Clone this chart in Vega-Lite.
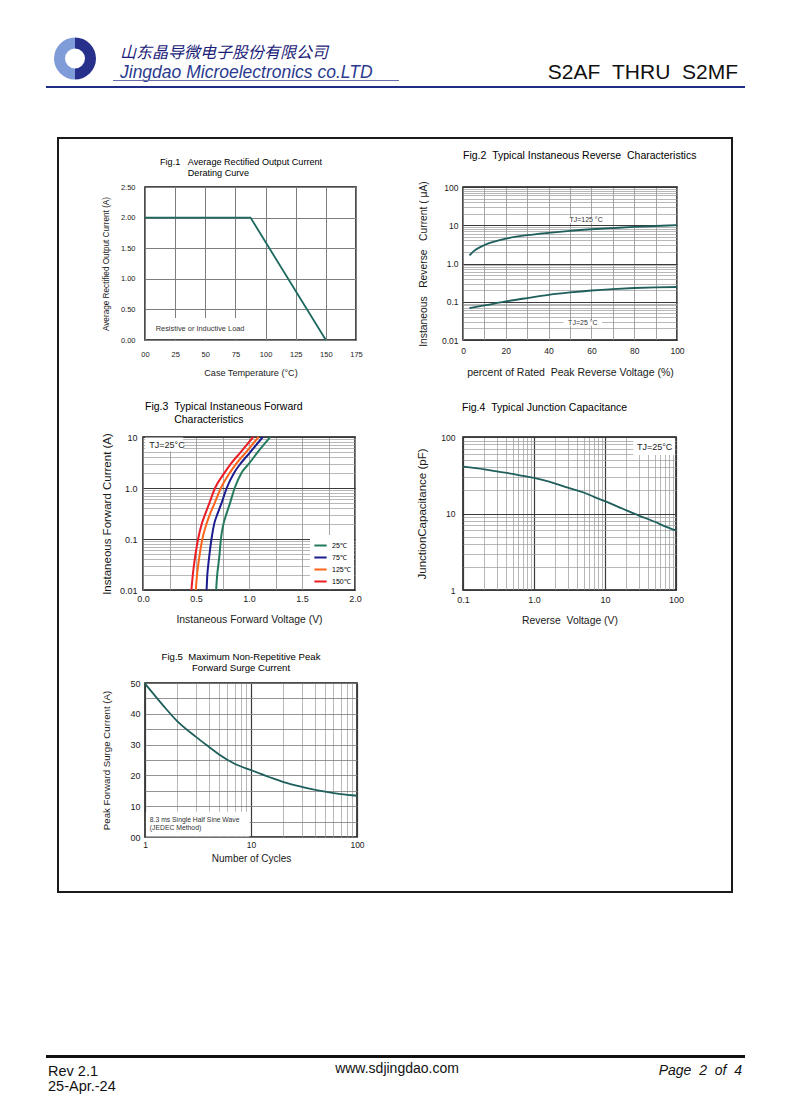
{
"$schema":"https://vega.github.io/schema/vega-lite/v6.json",
"padding":0,
"background":"white",
"spacing":0,
"bounds":"flush",
"columns":2,
"align":"each",
"resolve":{"scale":{"color":"independent"},"legend":{"color":"independent"}},
"datasets":{
"blank":[{"k":1}],
"logo":[{"part":"bowl","share":1},{"part":"stem","share":1}],
"fig1":[{"temp":0,"current":2},{"temp":87.5,"current":2},{"temp":150,"current":0}],
"fig2":[{"pct":3,"ir":1.62,"tj":"125"},{"pct":5,"ir":2.1,"tj":"125"},{"pct":10,"ir":3.05,"tj":"125"},{"pct":15,"ir":3.8,"tj":"125"},{"pct":20,"ir":4.45,"tj":"125"},{"pct":30,"ir":5.5,"tj":"125"},{"pct":40,"ir":6.35,"tj":"125"},{"pct":50,"ir":7.15,"tj":"125"},{"pct":60,"ir":7.85,"tj":"125"},{"pct":70,"ir":8.45,"tj":"125"},{"pct":80,"ir":9.05,"tj":"125"},{"pct":90,"ir":9.55,"tj":"125"},{"pct":100,"ir":10.1,"tj":"125"},
{"pct":3,"ir":0.068,"tj":"25"},{"pct":10,"ir":0.08,"tj":"25"},{"pct":20,"ir":0.102,"tj":"25"},{"pct":30,"ir":0.125,"tj":"25"},{"pct":40,"ir":0.151,"tj":"25"},{"pct":50,"ir":0.175,"tj":"25"},{"pct":60,"ir":0.197,"tj":"25"},{"pct":70,"ir":0.215,"tj":"25"},{"pct":80,"ir":0.229,"tj":"25"},{"pct":90,"ir":0.238,"tj":"25"},{"pct":100,"ir":0.243,"tj":"25"}],
"fig3":[
{"volt":0.69,"amp":0.01,"tj":"25℃"},{"volt":0.70,"amp":0.02,"tj":"25℃"},{"volt":0.71,"amp":0.03,"tj":"25℃"},{"volt":0.722,"amp":0.05,"tj":"25℃"},{"volt":0.735,"amp":0.1,"tj":"25℃"},{"volt":0.76,"amp":0.2,"tj":"25℃"},{"volt":0.785,"amp":0.3,"tj":"25℃"},{"volt":0.82,"amp":0.5,"tj":"25℃"},{"volt":0.865,"amp":1,"tj":"25℃"},{"volt":0.93,"amp":2,"tj":"25℃"},{"volt":1.0,"amp":3,"tj":"25℃"},{"volt":1.08,"amp":5,"tj":"25℃"},{"volt":1.2,"amp":10,"tj":"25℃"},
{"volt":0.6,"amp":0.01,"tj":"75℃"},{"volt":0.607,"amp":0.02,"tj":"75℃"},{"volt":0.615,"amp":0.03,"tj":"75℃"},{"volt":0.627,"amp":0.05,"tj":"75℃"},{"volt":0.646,"amp":0.1,"tj":"75℃"},{"volt":0.672,"amp":0.2,"tj":"75℃"},{"volt":0.7,"amp":0.3,"tj":"75℃"},{"volt":0.74,"amp":0.5,"tj":"75℃"},{"volt":0.79,"amp":1,"tj":"75℃"},{"volt":0.86,"amp":2,"tj":"75℃"},{"volt":0.92,"amp":3,"tj":"75℃"},{"volt":1.01,"amp":5,"tj":"75℃"},{"volt":1.13,"amp":10,"tj":"75℃"},
{"volt":0.498,"amp":0.01,"tj":"125℃"},{"volt":0.51,"amp":0.02,"tj":"125℃"},{"volt":0.52,"amp":0.03,"tj":"125℃"},{"volt":0.535,"amp":0.05,"tj":"125℃"},{"volt":0.56,"amp":0.1,"tj":"125℃"},{"volt":0.6,"amp":0.2,"tj":"125℃"},{"volt":0.63,"amp":0.3,"tj":"125℃"},{"volt":0.675,"amp":0.5,"tj":"125℃"},{"volt":0.735,"amp":1,"tj":"125℃"},{"volt":0.82,"amp":2,"tj":"125℃"},{"volt":0.88,"amp":3,"tj":"125℃"},{"volt":0.97,"amp":5,"tj":"125℃"},{"volt":1.09,"amp":10,"tj":"125℃"},
{"volt":0.457,"amp":0.01,"tj":"150℃"},{"volt":0.47,"amp":0.02,"tj":"150℃"},{"volt":0.48,"amp":0.03,"tj":"150℃"},{"volt":0.495,"amp":0.05,"tj":"150℃"},{"volt":0.52,"amp":0.1,"tj":"150℃"},{"volt":0.555,"amp":0.2,"tj":"150℃"},{"volt":0.585,"amp":0.3,"tj":"150℃"},{"volt":0.625,"amp":0.5,"tj":"150℃"},{"volt":0.68,"amp":1,"tj":"150℃"},{"volt":0.77,"amp":2,"tj":"150℃"},{"volt":0.83,"amp":3,"tj":"150℃"},{"volt":0.92,"amp":5,"tj":"150℃"},{"volt":1.04,"amp":10,"tj":"150℃"}],
"fig4":[{"vr":0.1,"cj":41},{"vr":0.2,"cj":37.8},{"vr":0.3,"cj":35.5},{"vr":0.5,"cj":32.9},{"vr":0.7,"cj":31},{"vr":1,"cj":29.2},{"vr":2,"cj":24.6},{"vr":3,"cj":21.8},{"vr":5,"cj":18.8},{"vr":7,"cj":16.5},{"vr":10,"cj":14.5},{"vr":20,"cj":11},{"vr":30,"cj":9.4},{"vr":50,"cj":7.8},{"vr":70,"cj":6.8},{"vr":100,"cj":6.0}],
"fig5":[{"n":1,"ifsm":49.8},{"n":1.5,"ifsm":42.5},{"n":2,"ifsm":37.7},{"n":3,"ifsm":32.6},{"n":4,"ifsm":29.3},{"n":5,"ifsm":26.8},{"n":7,"ifsm":23.8},{"n":10,"ifsm":21.7},{"n":15,"ifsm":19.4},{"n":20,"ifsm":17.9},{"n":30,"ifsm":16.3},{"n":50,"ifsm":14.7},{"n":70,"ifsm":13.9},{"n":100,"ifsm":13.4}]
},
"concat":[
{"width":1,"height":37,"data":{"name":"blank"},"mark":{"type":"text","text":"","baseline":"top","align":"left"},"encoding":{}},
{"width":1,"height":1,"data":{"name":"blank"},"mark":{"type":"text","text":"","baseline":"top","align":"left"},"encoding":{}},

{"width":1,"height":43,"data":{"name":"blank"},"mark":{"type":"text","text":"","baseline":"top","align":"left"},"encoding":{}},
{"spacing":0,"bounds":"flush","hconcat":[
 {"width":51,"height":1,"data":{"name":"blank"},"mark":{"type":"text","text":"","baseline":"top","align":"left"},"encoding":{}},
 {"width":46,"height":43,"data":{"name":"logo"},"layer":[
  {"mark":{"type":"arc","outerRadius":21},"encoding":{"theta":{"field":"share","type":"quantitative","stack":true},"color":{"condition":{"test":"datum.part == 'bowl'","value":"#27318c"},"value":"#7f9bd8"}}},
  {"mark":{"type":"arc","outerRadius":10,"color":"#ffffff"},"encoding":{"theta":{"field":"share","type":"quantitative","stack":true}}}
 ]},
 {"width":20,"height":1,"data":{"name":"blank"},"mark":{"type":"text","text":"","baseline":"top","align":"left"},"encoding":{}},
 {"width":300,"height":43,"data":{"name":"blank"},"mark":{"type":"text","text":"","baseline":"top","align":"left"},"encoding":{},
  "title":{"text":"山东晶导微电子股份有限公司","subtitle":"Jingdao Microelectronics co.LTD","anchor":"start","frame":"group","orient":"top","offset":-44.7,"dx":2,"font":"Noto Sans CJK SC","fontSize":16,"fontStyle":"italic","fontWeight":"normal","color":"#1c1c7a","subtitleFont":"Liberation Sans","subtitleFontSize":17.5,"subtitleFontStyle":"italic","subtitleColor":"#2b3a8f","subtitlePadding":3.7}},
 {"width":120,"height":1,"data":{"name":"blank"},"mark":{"type":"text","text":"","baseline":"top","align":"left"},"encoding":{}},
 {"width":200,"height":43,"data":{"name":"blank"},"mark":{"type":"text","text":"","baseline":"top","align":"left"},"encoding":{},
  "title":{"text":"S2AF\u00a0\u00a0THRU\u00a0\u00a0S2MF","anchor":"end","frame":"group","orient":"top","offset":-46.4,"font":"Liberation Sans","fontSize":21,"fontWeight":"normal","color":"#111111"}}
]},

{"width":1,"height":1,"data":{"name":"blank"},"mark":{"type":"text","text":"","baseline":"top","align":"left"},"encoding":{}},
{"spacing":0,"bounds":"flush","hconcat":[
 {"width":112,"height":1,"data":{"name":"blank"},"mark":{"type":"text","text":"","baseline":"top","align":"left"},"encoding":{}},
 {"width":286,"height":1,"data":{"name":"blank"},"mark":{"type":"text","text":"","baseline":"top","align":"left"},"encoding":{},"view":{"fill":"#6b6ba8","stroke":null}}
]},

{"width":1,"height":5,"data":{"name":"blank"},"mark":{"type":"text","text":"","baseline":"top","align":"left"},"encoding":{}},
{"width":1,"height":1,"data":{"name":"blank"},"mark":{"type":"text","text":"","baseline":"top","align":"left"},"encoding":{}},

{"width":1,"height":2,"data":{"name":"blank"},"mark":{"type":"text","text":"","baseline":"top","align":"left"},"encoding":{}},
{"spacing":0,"bounds":"flush","hconcat":[
 {"width":45,"height":1,"data":{"name":"blank"},"mark":{"type":"text","text":"","baseline":"top","align":"left"},"encoding":{}},
 {"width":699,"height":2,"data":{"name":"blank"},"mark":{"type":"text","text":"","baseline":"top","align":"left"},"encoding":{},"view":{"fill":"#1f2d86","stroke":null}}
]},

{"width":1,"height":50,"data":{"name":"blank"},"mark":{"type":"text","text":"","baseline":"top","align":"left"},"encoding":{}},
{"width":1,"height":1,"data":{"name":"blank"},"mark":{"type":"text","text":"","baseline":"top","align":"left"},"encoding":{}},

{"width":1,"height":49,"data":{"name":"blank"},"mark":{"type":"text","text":"","baseline":"top","align":"left"},"encoding":{}},
{"spacing":0,"bounds":"flush","hconcat":[
 {"width":57,"height":1,"data":{"name":"blank"},"mark":{"type":"text","text":"","baseline":"top","align":"left"},"encoding":{}},
 {"width":674,"height":49,"data":{"name":"blank"},"mark":{"type":"text","text":"","baseline":"top","align":"left"},"encoding":{},"view":{"stroke":"#1a1a1a","strokeWidth":2,"strokeDash":[723,674,49]}}
]},

{"width":1,"height":153,"data":{"name":"blank"},"mark":{"type":"text","text":"","baseline":"top","align":"left"},"encoding":{}},
{"spacing":0,"bounds":"flush","hconcat":[
 {"width":57,"height":1,"data":{"name":"blank"},"mark":{"type":"text","text":"","baseline":"top","align":"left"},"encoding":{}},
 {"width":87,"height":153,"data":{"name":"blank"},"mark":{"type":"text","text":"","baseline":"top","align":"left"},"encoding":{},"view":{"stroke":"#1a1a1a","strokeWidth":2,"strokeDash":[0,327,153]}},
 {"width":211,"height":153,"view":{"stroke":"#111111","strokeWidth":1.5},
  "title":{"text":["Fig.1\u00a0\u00a0\u00a0Average Rectified Output Current","\u200b\u00a0\u00a0\u00a0\u00a0\u00a0\u00a0\u00a0\u00a0\u00a0\u00a0\u00a0Derating Curve"],"anchor":"start","frame":"group","dx":15,"fontSize":9.1,"lineHeight":11,"offset":5.25,"color":"#000000"},
  "layer":[
   {"data":{"name":"blank"},"mark":{"type":"rect","fill":"#ffffff"},"encoding":{"x":{"datum":0.8,"type":"quantitative"},"x2":{"datum":85},"y":{"datum":0.02,"type":"quantitative"},"y2":{"datum":0.36}}},
   {"data":{"name":"blank"},"mark":{"type":"text","align":"left","baseline":"middle","fontSize":7.4,"color":"#333333","text":"Resistive or Inductive Load"},"encoding":{"x":{"datum":8.9,"type":"quantitative"},"y":{"datum":0.185,"type":"quantitative"}}},
   {"data":{"name":"fig1"},"mark":{"type":"line","color":"#1d6a60","strokeWidth":1.8},"encoding":{
    "x":{"field":"temp","type":"quantitative","scale":{"domain":[0,175],"nice":false,"zero":false},"axis":{"values":[0,25,50,75,100,125,150,175],"tickCount":1000,"format":"d","labelExpr":"datum.value==0?'00':datum.label","title":"Case Temperature (°C)","labelFontSize":7.5,"titleFontSize":9.1,"labelPadding":10,"titlePadding":11,"grid":true,"gridColor":"#7d7d7d","gridWidth":1}},
    "y":{"field":"current","type":"quantitative","scale":{"domain":[0,2.5],"nice":false},"axis":{"values":[0,0.5,1,1.5,2,2.5],"tickCount":1000,"format":".2f","title":"Average Rectified Output Current (A)","labelFontSize":7.5,"titleFontSize":8.2,"labelPadding":10,"titlePadding":10,"grid":true,"gridColor":"#7d7d7d","gridWidth":1}}
   }}
  ]},
 {"width":107,"height":1,"data":{"name":"blank"},"mark":{"type":"text","text":"","baseline":"top","align":"left"},"encoding":{}},
 {"width":214,"height":153,"view":{"stroke":"#111111","strokeWidth":1.5},
  "title":{"text":"Fig.2\u00a0\u00a0Typical Instaneous Reverse\u00a0\u00a0Characteristics","anchor":"start","frame":"group","dx":0,"fontSize":10.5,"offset":19,"color":"#000000"},
  "layer":[
   {"data":{"name":"blank"},"mark":{"type":"rect","fill":"#ffffff"},"encoding":{"x":{"datum":49,"type":"quantitative"},"x2":{"datum":66},"y":{"datum":11.6,"type":"quantitative"},"y2":{"datum":16}}},
   {"data":{"name":"blank"},"mark":{"type":"text","align":"center","baseline":"middle","fontSize":7,"color":"#333333","text":"TJ=125 °C"},"encoding":{"x":{"datum":57.5,"type":"quantitative"},"y":{"datum":13.6,"type":"quantitative"}}},
   {"data":{"name":"blank"},"mark":{"type":"rect","fill":"#ffffff"},"encoding":{"x":{"datum":47,"type":"quantitative"},"x2":{"datum":65},"y":{"datum":0.0235,"type":"quantitative"},"y2":{"datum":0.0335}}},
   {"data":{"name":"blank"},"mark":{"type":"text","align":"center","baseline":"middle","fontSize":7,"color":"#333333","text":"TJ=25 °C"},"encoding":{"x":{"datum":56,"type":"quantitative"},"y":{"datum":0.028,"type":"quantitative"}}},
   {"data":{"name":"fig2"},"mark":{"type":"line","color":"#1e5f5c","strokeWidth":1.8,"interpolate":"monotone"},"encoding":{
    "detail":{"field":"tj"},
    "x":{"field":"pct","type":"quantitative","scale":{"domain":[0,100],"nice":false,"zero":false},"axis":{"values":[0,10,20,30,40,50,60,70,80,90,100],"tickCount":1000,"format":"d","labelExpr":"datum.value % 20 == 0 ? datum.label : ''","title":"percent of Rated\u00a0\u00a0Peak Reverse Voltage (%)","labelFontSize":8.5,"titleFontSize":10.5,"labelPadding":6.5,"titlePadding":12,"grid":true}},
    "y":{"field":"ir","type":"quantitative","scale":{"type":"log","domain":[0.01,100],"nice":false},"axis":{"values":[0.01,0.02,0.03,0.04,0.05,0.06,0.07,0.08,0.09,0.1,0.2,0.3,0.4,0.5,0.6,0.7,0.8,0.9,1,2,3,4,5,6,7,8,9,10,20,30,40,50,60,70,80,90,100],"tickCount":1000,"labelExpr":"datum.value==0.01?'0.01':datum.value==0.1?'0.1':datum.value==1?'1.0':datum.value==10?'10':datum.value==100?'100':''","title":"Instaneous\u00a0\u00a0\u00a0Reverse\u00a0\u00a0\u00a0Current ( μA)","labelFontSize":8.5,"titleFontSize":10.3,"labelPadding":5,"titlePadding":13,"grid":true,
      "gridColor":{"condition":{"test":"indexof([0.01,0.1,1,10,100],datum.value)>=0","value":"#3a3a3a"},"value":"#9a9a9a"},
      "gridWidth":{"condition":{"test":"indexof([0.01,0.1,1,10,100],datum.value)>=0","value":1.2},"value":0.7}}}
   }}
  ]},
 {"width":55,"height":153,"data":{"name":"blank"},"mark":{"type":"text","text":"","baseline":"top","align":"left"},"encoding":{},"view":{"stroke":"#1a1a1a","strokeWidth":2,"strokeDash":[0,55,153,208]}}
]},

{"width":1,"height":97,"data":{"name":"blank"},"mark":{"type":"text","text":"","baseline":"top","align":"left"},"encoding":{}},
{"spacing":0,"bounds":"flush","hconcat":[
 {"width":57,"height":1,"data":{"name":"blank"},"mark":{"type":"text","text":"","baseline":"top","align":"left"},"encoding":{}},
 {"width":674,"height":97,"data":{"name":"blank"},"mark":{"type":"text","text":"","baseline":"top","align":"left"},"encoding":{},"view":{"stroke":"#1a1a1a","strokeWidth":2,"strokeDash":[0,674,97,674,97]}}
]},

{"width":1,"height":153,"data":{"name":"blank"},"mark":{"type":"text","text":"","baseline":"top","align":"left"},"encoding":{}},
{"spacing":0,"bounds":"flush","resolve":{"scale":{"color":"independent"},"legend":{"color":"independent"}},"hconcat":[
 {"width":57,"height":1,"data":{"name":"blank"},"mark":{"type":"text","text":"","baseline":"top","align":"left"},"encoding":{}},
 {"width":85,"height":153,"data":{"name":"blank"},"mark":{"type":"text","text":"","baseline":"top","align":"left"},"encoding":{},"view":{"stroke":"#1a1a1a","strokeWidth":2,"strokeDash":[0,323,153]}},
 {"width":212,"height":153,"view":{"stroke":"#111111","strokeWidth":1.5},
  "title":{"text":["Fig.3\u00a0\u00a0Typical Instaneous Forward","\u200b\u00a0\u00a0\u00a0\u00a0\u00a0\u00a0\u00a0\u00a0\u00a0\u00a0Characteristics"],"anchor":"start","frame":"group","dx":2,"fontSize":10.5,"lineHeight":13,"offset":7,"color":"#000000"},
  "layer":[
   {"data":{"name":"blank"},"mark":{"type":"rect","fill":"#ffffff"},"encoding":{"x":{"datum":0.02,"type":"quantitative"},"x2":{"datum":0.38},"y":{"datum":5.2,"type":"quantitative"},"y2":{"datum":9.8}}},
   {"data":{"name":"blank"},"mark":{"type":"text","align":"left","baseline":"middle","fontSize":9,"color":"#222222","text":"TJ=25°C"},"encoding":{"x":{"datum":0.06,"type":"quantitative"},"y":{"datum":6.9,"type":"quantitative"}}},
   {"data":{"name":"fig3"},"mark":{"type":"line","strokeWidth":2,"interpolate":"monotone"},"encoding":{
    "color":{"field":"tj","type":"nominal","scale":{"domain":["25℃","75℃","125℃","150℃"],"range":["#237a5f","#1c1c8e","#ff6319","#ec1c24"]},"legend":{"orient":"bottom-right","title":null,"offset":1,"fillColor":"#ffffff","padding":3,"symbolType":"stroke","symbolStrokeWidth":2,"symbolSize":150,"labelFontSize":7,"rowPadding":0,"labelOffset":4}},
    "x":{"field":"volt","type":"quantitative","scale":{"domain":[0,2],"nice":false,"zero":false},"axis":{"values":[0,0.25,0.5,0.75,1,1.25,1.5,1.75,2],"tickCount":1000,"labelExpr":"(datum.value*2) % 1 == 0 ? format(datum.value,'.1f') : ''","title":"Instaneous Forward Voltage (V)","labelFontSize":9,"titleFontSize":10.4,"labelPadding":4.5,"titlePadding":11,"grid":true}},
    "y":{"field":"amp","type":"quantitative","scale":{"type":"log","domain":[0.01,10],"nice":false},"axis":{"values":[0.01,0.02,0.03,0.04,0.05,0.06,0.07,0.08,0.09,0.1,0.2,0.3,0.4,0.5,0.6,0.7,0.8,0.9,1,2,3,4,5,6,7,8,9,10],"tickCount":1000,"labelExpr":"datum.value==0.01?'0.01':datum.value==0.1?'0.1':datum.value==1?'1.0':datum.value==10?'10':''","title":"Instaneous Forward Current (A)","labelFontSize":9,"titleFontSize":11.5,"labelPadding":6,"titlePadding":7,"grid":true,
      "gridColor":{"condition":{"test":"indexof([0.01,0.1,1,10],datum.value)>=0","value":"#3a3a3a"},"value":"#9a9a9a"},
      "gridWidth":{"condition":{"test":"indexof([0.01,0.1,1,10],datum.value)>=0","value":1.2},"value":0.7}}}
   }}
  ]},
 {"width":108,"height":1,"data":{"name":"blank"},"mark":{"type":"text","text":"","baseline":"top","align":"left"},"encoding":{}},
 {"width":213,"height":153,"view":{"stroke":"#111111","strokeWidth":1.5},
  "title":{"text":"Fig.4\u00a0\u00a0Typical Junction Capacitance","anchor":"start","frame":"group","dx":-1,"fontSize":10.5,"offset":20,"color":"#000000"},
  "layer":[
   {"data":{"name":"blank"},"mark":{"type":"rect","fill":"#ffffff"},"encoding":{"x":{"datum":25,"type":"quantitative"},"x2":{"datum":97},"y":{"datum":58,"type":"quantitative"},"y2":{"datum":97}}},
   {"data":{"name":"blank"},"mark":{"type":"text","align":"center","baseline":"middle","fontSize":9,"color":"#222222","text":"TJ=25°C"},"encoding":{"x":{"datum":50,"type":"quantitative"},"y":{"datum":74,"type":"quantitative"}}},
   {"data":{"name":"fig4"},"mark":{"type":"line","color":"#1e5f5c","strokeWidth":1.8,"interpolate":"monotone"},"encoding":{
    "x":{"field":"vr","type":"quantitative","scale":{"type":"log","domain":[0.1,100],"nice":false},"axis":{"values":[0.1,0.2,0.3,0.4,0.5,0.6,0.7,0.8,0.9,1,2,3,4,5,6,7,8,9,10,20,30,40,50,60,70,80,90,100],"tickCount":1000,"labelExpr":"datum.value==0.1?'0.1':datum.value==1?'1.0':datum.value==10?'10':datum.value==100?'100':''","title":"Reverse\u00a0\u00a0Voltage (V)","labelFontSize":9,"titleFontSize":10.4,"labelPadding":5.5,"titlePadding":11,"grid":true,
      "gridColor":{"condition":{"test":"indexof([0.1,1,10,100],datum.value)>=0","value":"#3a3a3a"},"value":"#9a9a9a"},
      "gridWidth":{"condition":{"test":"indexof([0.1,1,10,100],datum.value)>=0","value":1.2},"value":0.7}}},
    "y":{"field":"cj","type":"quantitative","scale":{"type":"log","domain":[1,100],"nice":false},"axis":{"values":[1,2,3,4,5,6,7,8,9,10,20,30,40,50,60,70,80,90,100],"tickCount":1000,"labelExpr":"datum.value==1?'1':datum.value==10?'10':datum.value==100?'100':''","title":"JunctionCapacitance (pF)","labelFontSize":8.5,"titleFontSize":11.5,"labelPadding":8,"titlePadding":13,"grid":true,
      "gridColor":{"condition":{"test":"indexof([1,10,100],datum.value)>=0","value":"#3a3a3a"},"value":"#9a9a9a"},
      "gridWidth":{"condition":{"test":"indexof([1,10,100],datum.value)>=0","value":1.2},"value":0.7}}}
   }}
  ]},
 {"width":56,"height":153,"data":{"name":"blank"},"mark":{"type":"text","text":"","baseline":"top","align":"left"},"encoding":{},"view":{"stroke":"#1a1a1a","strokeWidth":2,"strokeDash":[0,56,153,209]}}
]},

{"width":1,"height":93,"data":{"name":"blank"},"mark":{"type":"text","text":"","baseline":"top","align":"left"},"encoding":{}},
{"spacing":0,"bounds":"flush","hconcat":[
 {"width":57,"height":1,"data":{"name":"blank"},"mark":{"type":"text","text":"","baseline":"top","align":"left"},"encoding":{}},
 {"width":674,"height":93,"data":{"name":"blank"},"mark":{"type":"text","text":"","baseline":"top","align":"left"},"encoding":{},"view":{"stroke":"#1a1a1a","strokeWidth":2,"strokeDash":[0,674,93,674,93]}}
]},

{"width":1,"height":154,"data":{"name":"blank"},"mark":{"type":"text","text":"","baseline":"top","align":"left"},"encoding":{}},
{"spacing":0,"bounds":"flush","hconcat":[
 {"width":57,"height":1,"data":{"name":"blank"},"mark":{"type":"text","text":"","baseline":"top","align":"left"},"encoding":{}},
 {"width":87,"height":154,"data":{"name":"blank"},"mark":{"type":"text","text":"","baseline":"top","align":"left"},"encoding":{},"view":{"stroke":"#1a1a1a","strokeWidth":2,"strokeDash":[0,328,154]}},
 {"width":212,"height":154,"view":{"stroke":"#111111","strokeWidth":1.5},
  "title":{"text":["Fig.5\u00a0\u00a0Maximum Non-Repetitive Peak","Forward Surge Current"],"anchor":"middle","frame":"group","dx":-10,"fontSize":9.6,"lineHeight":11,"offset":6.5,"color":"#000000"},
  "layer":[
   {"data":{"name":"blank"},"mark":{"type":"rect","fill":"#ffffff"},"encoding":{"x":{"datum":1.02,"type":"quantitative"},"x2":{"datum":9.7},"y":{"datum":0.2,"type":"quantitative"},"y2":{"datum":8.2}}},
   {"data":{"name":"blank"},"mark":{"type":"text","align":"left","baseline":"middle","fontSize":6.8,"color":"#333333","text":"8.3 ms Single Half Sine Wave"},"encoding":{"x":{"datum":1.11,"type":"quantitative"},"y":{"datum":5.5,"type":"quantitative"}}},
   {"data":{"name":"blank"},"mark":{"type":"text","align":"left","baseline":"middle","fontSize":6.8,"color":"#333333","text":"(JEDEC Method)"},"encoding":{"x":{"datum":1.11,"type":"quantitative"},"y":{"datum":3.0,"type":"quantitative"}}},
   {"data":{"name":"fig5"},"mark":{"type":"line","color":"#1e5f5c","strokeWidth":1.8,"interpolate":"monotone"},"encoding":{
    "x":{"field":"n","type":"quantitative","scale":{"type":"log","domain":[1,100],"nice":false},"axis":{"values":[1,2,3,4,5,6,7,8,9,10,20,30,40,50,60,70,80,90,100],"tickCount":1000,"labelExpr":"datum.value==1?'1':datum.value==10?'10':datum.value==100?'100':''","title":"Number of Cycles","labelFontSize":8.5,"titleFontSize":10,"labelPadding":3,"titlePadding":4.5,"grid":true,
      "gridColor":{"condition":{"test":"indexof([1,10,100],datum.value)>=0","value":"#3a3a3a"},"value":"#9a9a9a"},
      "gridWidth":{"condition":{"test":"indexof([1,10,100],datum.value)>=0","value":1.2},"value":0.7}}},
    "y":{"field":"ifsm","type":"quantitative","scale":{"domain":[0,50],"nice":false},"axis":{"values":[0,5,10,15,20,25,30,35,40,45,50],"tickCount":1000,"format":"d","labelExpr":"datum.value % 10 == 0 ? (datum.value == 0 ? '00' : datum.label) : ''","title":"Peak Forward Surge Current (A)","labelFontSize":9,"titleFontSize":9.7,"labelPadding":5,"titlePadding":18,"grid":true,"gridColor":"#7a7a7a"}}
   }}
  ]},
 {"width":375,"height":154,"data":{"name":"blank"},"mark":{"type":"text","text":"","baseline":"top","align":"left"},"encoding":{},"view":{"stroke":"#1a1a1a","strokeWidth":2,"strokeDash":[0,375,154,529]}}
]},

{"width":1,"height":55,"data":{"name":"blank"},"mark":{"type":"text","text":"","baseline":"top","align":"left"},"encoding":{}},
{"spacing":0,"bounds":"flush","hconcat":[
 {"width":57,"height":1,"data":{"name":"blank"},"mark":{"type":"text","text":"","baseline":"top","align":"left"},"encoding":{}},
 {"width":674,"height":55,"data":{"name":"blank"},"mark":{"type":"text","text":"","baseline":"top","align":"left"},"encoding":{},"view":{"stroke":"#1a1a1a","strokeWidth":2,"strokeDash":[0,674,784]}}
]},

{"width":1,"height":163,"data":{"name":"blank"},"mark":{"type":"text","text":"","baseline":"top","align":"left"},"encoding":{}},
{"width":1,"height":1,"data":{"name":"blank"},"mark":{"type":"text","text":"","baseline":"top","align":"left"},"encoding":{}},

{"width":1,"height":3,"data":{"name":"blank"},"mark":{"type":"text","text":"","baseline":"top","align":"left"},"encoding":{}},
{"spacing":0,"bounds":"flush","hconcat":[
 {"width":45,"height":1,"data":{"name":"blank"},"mark":{"type":"text","text":"","baseline":"top","align":"left"},"encoding":{}},
 {"width":699,"height":3,"data":{"name":"blank"},"mark":{"type":"text","text":"","baseline":"top","align":"left"},"encoding":{},"view":{"fill":"#111111","stroke":null}}
]},

{"width":1,"height":42,"data":{"name":"blank"},"mark":{"type":"text","text":"","baseline":"top","align":"left"},"encoding":{}},
{"spacing":0,"bounds":"flush","hconcat":[
 {"width":47,"height":1,"data":{"name":"blank"},"mark":{"type":"text","text":"","baseline":"top","align":"left"},"encoding":{}},
 {"width":200,"height":42,"data":{"name":"blank"},"mark":{"type":"text","text":"","baseline":"top","align":"left"},"encoding":{},
  "title":{"text":"Rev 2.1","subtitle":"25-Apr.-24","anchor":"start","frame":"group","orient":"top","offset":-36.5,"font":"Liberation Sans","fontSize":14.5,"fontWeight":"normal","color":"#111111","subtitleFont":"Liberation Sans","subtitleFontSize":14.5,"subtitleColor":"#111111","subtitlePadding":0.5}},
 {"width":49,"height":1,"data":{"name":"blank"},"mark":{"type":"text","text":"","baseline":"top","align":"left"},"encoding":{}},
 {"width":200,"height":42,"data":{"name":"blank"},"mark":{"type":"text","text":"","baseline":"top","align":"left"},"encoding":{},
  "title":{"text":"www.sdjingdao.com","anchor":"middle","frame":"group","orient":"top","offset":-17.5,"font":"Liberation Sans","fontSize":14,"fontWeight":"normal","color":"#111111"}},
 {"width":45,"height":1,"data":{"name":"blank"},"mark":{"type":"text","text":"","baseline":"top","align":"left"},"encoding":{}},
 {"width":200,"height":42,"data":{"name":"blank"},"mark":{"type":"text","text":"","baseline":"top","align":"left"},"encoding":{},
  "title":{"text":"Page\u00a0\u00a02\u00a0\u00a0of\u00a0\u00a04","anchor":"end","frame":"group","orient":"top","offset":-19.5,"font":"Liberation Sans","fontSize":14,"fontStyle":"italic","fontWeight":"normal","color":"#111111"}}
]}
],
"config":{
 "view":{"stroke":null},
 "font":"Liberation Sans",
 "axis":{"domain":false,"ticks":false,"labelFont":"Liberation Sans","titleFont":"Liberation Sans","titleFontWeight":"normal","labelColor":"#1a1a1a","titleColor":"#1a1a1a","gridColor":"#8f8f8f","gridWidth":0.8,"gridOpacity":1,"labelOverlap":false,"labelFlush":false,"labelBound":false},
 "title":{"font":"Liberation Sans","fontWeight":"normal","color":"#000000"},
 "legend":{"labelFont":"Liberation Sans"}
}
}
